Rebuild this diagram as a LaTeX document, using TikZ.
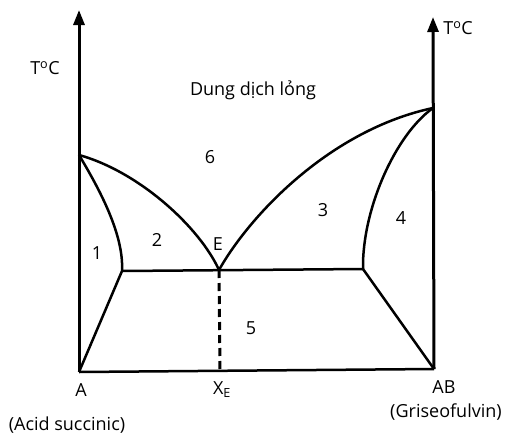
\documentclass[tikz,border=0pt]{standalone}
\usepackage{fontspec}
\setmainfont{Open Sans}
\usetikzlibrary{arrows.meta}
\begin{document}
\begin{tikzpicture}[x=1pt,y=-1pt,
  curve/.style={line width=2.5pt},
  axis/.style={line width=3pt,-{Triangle[length=15pt,width=11pt]}},
  lbl/.style={font=\fontsize{18}{20}\selectfont,inner sep=0pt}]
\useasboundingbox (0,0) rectangle (506,434);
\coordinate (A) at (79,372);
\coordinate (B) at (434,369);
\coordinate (Ltop) at (79,10);
\coordinate (Rtop) at (433,17);
\coordinate (L) at (79,155);
\coordinate (R) at (433,108);
\coordinate (E) at (219,270);
\coordinate (S1) at (122,271);
\coordinate (S2) at (363,269);
\coordinate (XE) at (220,371);
% axes
\draw[axis] (A) -- (Ltop);
\draw[axis] (B) -- (Rtop);
\draw[curve] (A) -- (B);
% curves
\draw[curve] (L) .. controls (140,172) and (200,228) .. (E);
\draw[curve] (L) .. controls (100,190) and (124,235) .. (S1);
\draw[curve] (E) .. controls (250,215) and (330,130) .. (R);
\draw[curve] (R) .. controls (395,135) and (362,210) .. (S2);
\draw[curve] (S1) -- (S2);
\draw[curve] (S1) -- (A);
\draw[curve] (S2) -- (B);
\draw[line width=3pt,dash pattern=on 8pt off 5pt] (E) -- (XE);
% labels
\node[lbl] (t1) at (45,68) {T\textsuperscript{o}C};
\node[lbl] (t2) at (458,28) {T\textsuperscript{o}C};
\node[lbl] (liq) at (253,90) {Dung dịch lỏng};
\node[lbl] (n6) at (210,157) {6};
\node[lbl] (n1) at (97,253) {1};
\node[lbl] (n2) at (157,240) {2};
\node[lbl] (nE) at (218,244) {E};
\node[lbl] (n3) at (323,210) {3};
\node[lbl] (n4) at (401,218) {4};
\node[lbl] (n5) at (251,328) {5};
\node[lbl] (nA) at (81,390) {A};
\node[lbl] (nX) at (222,390) {X\textsubscript{E}};
\node[lbl] (nAB) at (444,387) {AB};
\node[lbl] (as) at (67,425) {(Acid succinic)};
\node[lbl] (gr) at (446,412) {(Griseofulvin)};
\end{tikzpicture}
\end{document}
